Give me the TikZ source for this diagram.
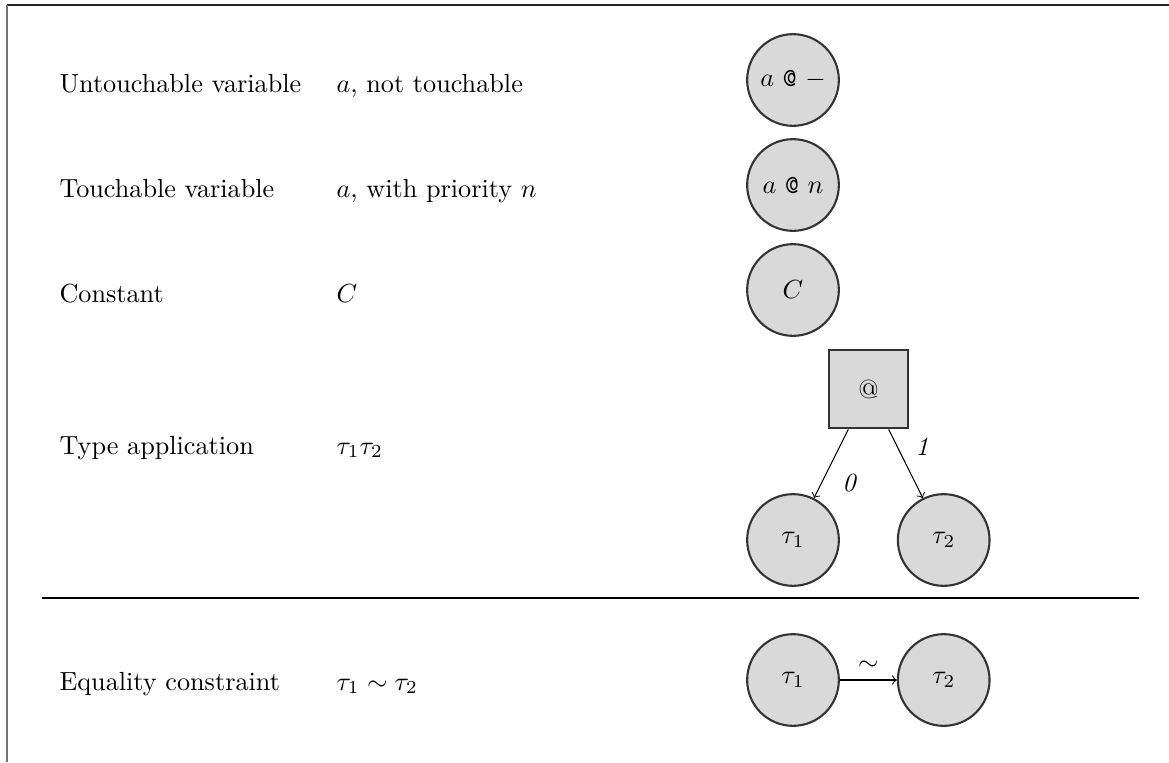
\documentclass[tikz,border=0pt]{standalone}
\usetikzlibrary{calc}
\begin{document}
\begin{tikzpicture}[x=0.3817pt,y=-0.3817pt,
  lbl/.style={anchor=base west,inner sep=0pt},
  vnode/.style={circle,draw=black!80,fill=gray!30,thick,minimum size=35pt,inner sep=0pt},
  anode/.style={rectangle,draw=black!80,fill=gray!30,thick,minimum size=30pt,inner sep=0pt},
  edgearrow/.style={->,>=to},
  elabel/.style={inner sep=0pt,font=\itshape}]
\useasboundingbox (0,0) rectangle (1169,762);
% frame
\draw[black!85] (7,5) -- (1169,5);
\draw[black!55,line width=0.8pt] (7,5) -- (7,762);
% left column labels
\node[lbl] (l1) at (59,92) {Untouchable variable};
\node[lbl] (d1) at (336,92) {$a$, not touchable};
\node[lbl] (l2) at (59,197) {Touchable variable};
\node[lbl] (d2) at (336,197) {$a$, with priority $n$};
\node[lbl] (l3) at (59,302) {Constant};
\node[lbl] (d3) at (336,302) {$C$};
\node[lbl] (l4) at (59,454) {Type application};
\node[lbl] (d4) at (336,454) {$\tau_1\tau_2$};
\node[lbl] (l5) at (59,690) {Equality constraint};
\node[lbl] (d5) at (336,690) {$\tau_1\sim\tau_2$};
% graphs
\node[vnode] (u) at (793,80) {$a$ \texttt{@} $-$};
\node[vnode] (t) at (793,185) {$a$ \texttt{@} $n$};
\node[vnode] (c) at (793,290) {$C$};
\node[anode] (app) at (868.5,389) {@};
\node[vnode] (x1) at (793,540) {$\tau_1$};
\node[vnode] (x2) at (943.7,540) {$\tau_2$};
\coordinate (s0) at ($(app.south west)!0.25!(app.south east)$);
\coordinate (s1) at ($(app.south west)!0.75!(app.south east)$);
\draw[edgearrow] (s0) -- (x1);
\draw[edgearrow] (s1) -- (x2);
\node[elabel] (e0) at (849,483) {0};
\node[elabel] (e1) at (922,447) {1};
% separator
\draw (42,598) -- (1139,598);
% equality
\node[vnode] (y1) at (793,680) {$\tau_1$};
\node[vnode] (y2) at (943.7,680) {$\tau_2$};
\draw[edgearrow] (y1) -- node[above] (sim) {$\sim$} (y2);
\end{tikzpicture}
\end{document}
